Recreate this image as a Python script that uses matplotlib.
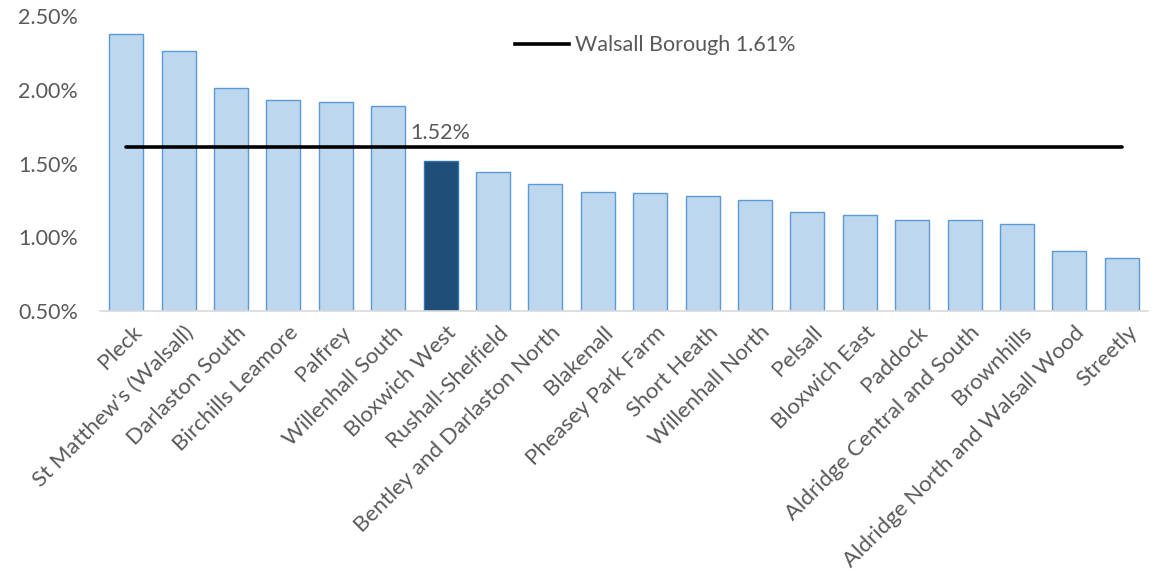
import matplotlib.pyplot as plt
from matplotlib.lines import Line2D
from matplotlib.ticker import FuncFormatter
from matplotlib.transforms import ScaledTranslation

# ward values (%)
wards = ["Pleck", "St Matthew's (Walsall)", "Darlaston South", "Birchills Leamore",
         "Palfrey", "Willenhall South", "Bloxwich West", "Rushall-Shelfield",
         "Bentley and Darlaston North", "Blakenall", "Pheasey Park Farm",
         "Short Heath", "Willenhall North", "Pelsall", "Bloxwich East", "Paddock",
         "Aldridge Central and South", "Brownhills",
         "Aldridge North and Walsall Wood", "Streetly"]
values = [2.38, 2.26, 2.01, 1.93, 1.92, 1.89, 1.52, 1.44, 1.36, 1.31, 1.30,
          1.28, 1.25, 1.17, 1.15, 1.12, 1.12, 1.09, 0.91, 0.86]
borough = 1.61
highlight = "Bloxwich West"
yticks = [0.5, 1.0, 1.5, 2.0, 2.5]

plt.rcParams['font.family'] = ['Lato', 'DejaVu Sans']
grey = '#595959'
fs = 15.5

fig = plt.figure(figsize=(11.52, 5.73), dpi=100)
ax = fig.add_axes([0.0868, 0.4572, 0.9097, 0.5148])

x = list(range(len(wards)))
fills = ['#1F4E79' if w == highlight else '#BDD7EE' for w in wards]
edges = ['#2E75B6' if w == highlight else '#5B9BD5' for w in wards]
ax.bar(x, values, width=0.65, color=fills, edgecolor=edges, linewidth=1.0,
       zorder=2)

ax.plot([x[0], x[-1]], [borough, borough], color='black', linewidth=2.6,
        solid_capstyle='round', zorder=3)

i = wards.index(highlight)
ax.annotate(f"{values[i]:.2f}%", (x[i], values[i]), xytext=(0, 13),
            textcoords='offset points', ha='center', va='bottom',
            fontsize=fs, color=grey)

ax.set_xlim(-0.5, len(wards) - 0.5)
ax.set_ylim(0.5, 2.5)
ax.set_yticks(yticks)
ax.yaxis.set_major_formatter(FuncFormatter(lambda v, p: f"{v:.2f}%"))
ax.set_xticks(x)
ax.set_xticklabels(wards, rotation=45, ha='right', rotation_mode='anchor',
                   fontsize=16)
ax.tick_params(axis='both', length=0, labelcolor=grey)
ax.tick_params(axis='y', pad=16, labelsize=fs)
ax.tick_params(axis='x', pad=8)
# nudge the slanted labels so their ends sit just right of each bar centre
shift = ScaledTranslation(0.05, 0.0, fig.dpi_scale_trans)
for lbl in ax.get_xticklabels():
    lbl.set_transform(lbl.get_transform() + shift)

for s in ['top', 'right', 'left']:
    ax.spines[s].set_visible(False)
ax.spines['bottom'].set_color('#D9D9D9')
ax.spines['bottom'].set_linewidth(1.2)

handle = Line2D([], [], color='black', linewidth=2.6)
fig.legend([handle], [f"Walsall Borough {borough:.2f}%"], loc='center left',
           bbox_to_anchor=(0.4306, 0.921), frameon=False, fontsize=fs,
           labelcolor=grey, handlelength=2.5, handletextpad=0.25)

fig.savefig('out.png', dpi=100)
